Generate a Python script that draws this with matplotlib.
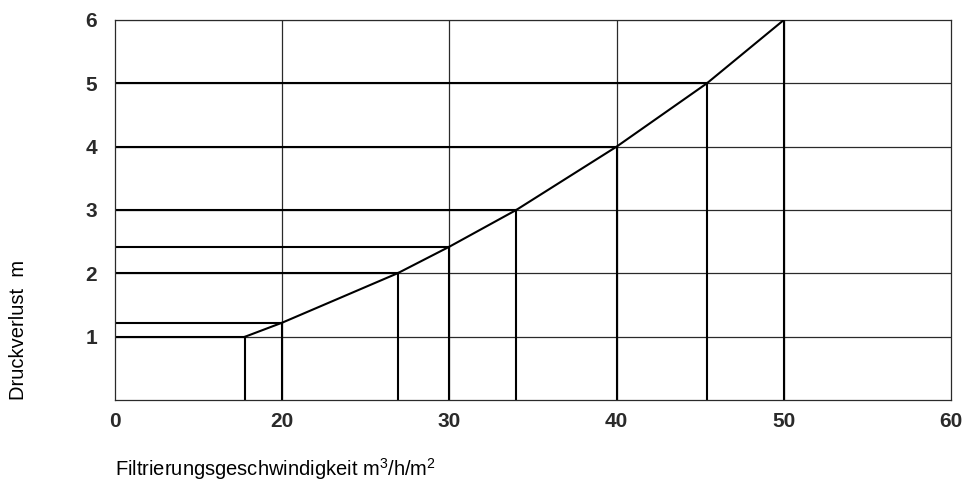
import matplotlib
matplotlib.use('Agg')
import matplotlib.pyplot as plt

plt.rcParams['font.family'] = ['Liberation Sans', 'DejaVu Sans']
plt.rcParams['mathtext.default'] = 'regular'

speed = [17.8, 20, 26.9, 30, 34.0, 40, 45.4, 50]
loss = [1.0, 1.22, 2.0, 2.42, 3.0, 4.0, 5.0, 6.0]

x_ticks = [10, 20, 30, 40, 50, 60]
x_tick_labels = ['0', '20', '30', '40', '50', '60']
y_ticks = [1, 2, 3, 4, 5, 6]

fig = plt.figure(figsize=(9.66, 4.83), dpi=100)
ax = fig.add_axes([0.119, 0.172, 0.8655, 0.7866])

x0, x1 = 10, 60
ax.set_xlim(x0, x1)
ax.set_ylim(0, 6)

# duennes Raster
for y in y_ticks[:-1]:
    ax.plot([x0, x1], [y, y], color='#2a2a2a', lw=0.9, zorder=1)
for x in x_ticks[1:-1]:
    ax.plot([x, x], [0, 6], color='#2a2a2a', lw=0.9, zorder=1)

# Ablesehilfen zu jedem Kurvenpunkt
for x, y in zip(speed, loss):
    ax.plot([x0, x], [y, y], color='black', lw=1.5, zorder=2)
    ax.plot([x, x], [0, y], color='black', lw=1.5, zorder=2)

ax.plot(speed, loss, color='black', lw=1.5, zorder=3)

for s in ax.spines.values():
    s.set_color('#2a2a2a')
    s.set_linewidth(0.9)

ax.set_xticks(x_ticks)
ax.set_xticklabels(x_tick_labels)
ax.set_yticks(y_ticks)
ax.tick_params(length=0, labelsize=15, colors='#2a2a2a')
ax.tick_params(axis='x', pad=9)
ax.tick_params(axis='y', pad=13)
for lab in ax.get_xticklabels() + ax.get_yticklabels():
    lab.set_fontweight('bold')

fig.text(0.119, 1 - 476 / 483, 'Filtrierungsgeschwindigkeit m$^3$/h/m$^2$',
         fontsize=14.5, ha='left', va='baseline')
fig.text(19 / 966, 1 - 330 / 483, 'Druckverlust  m', fontsize=14.5,
         rotation=90, ha='center', va='center')

fig.savefig('out.png', dpi=100, facecolor='white')
